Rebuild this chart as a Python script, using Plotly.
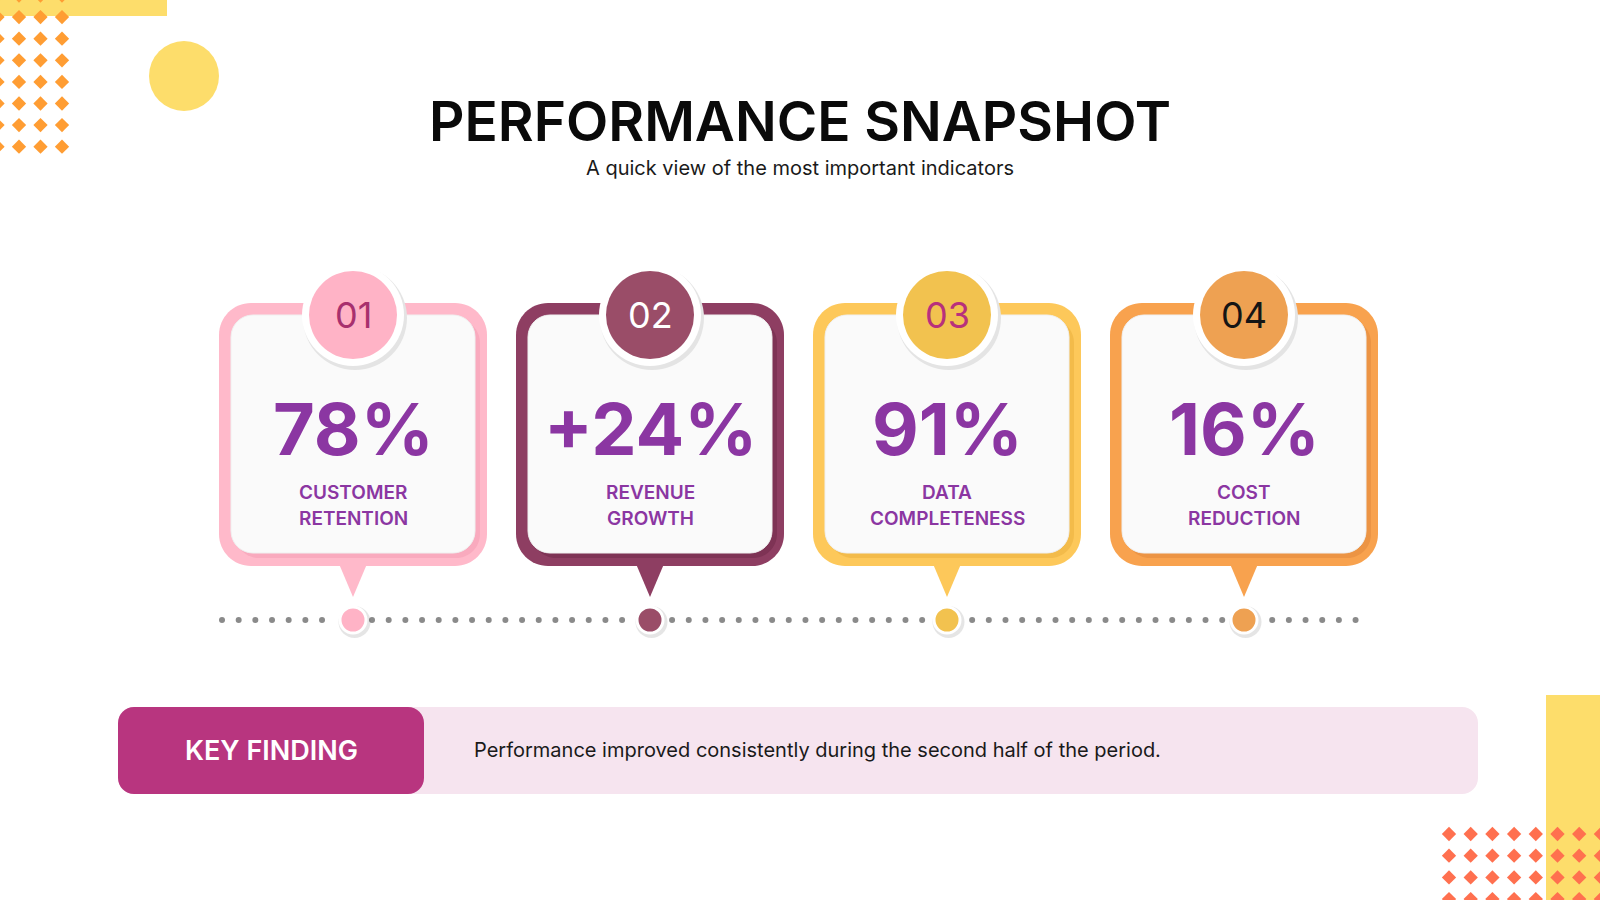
import plotly.graph_objects as go
import numpy as np

# content
badges = ["01", "02", "03", "04"]
values = ["78%", "+24%", "91%", "16%"]
label_top = ["CUSTOMER", "REVENUE", "DATA", "COST"]
label_bottom = ["RETENTION", "GROWTH", "COMPLETENESS", "REDUCTION"]
title = "PERFORMANCE SNAPSHOT"
subtitle = "A quick view of the most important indicators"
key_label = "KEY FINDING"
key_text = "Performance improved consistently during the second half of the period."

# styles
border_col = ["#FFB9CA", "#8E3E62", "#FDC85A", "#F8A24E"]
shadow_col = ["#F49BB2", "#6E2848", "#E9AE3A", "#E0863A"]
badge_col = ["#FFB3C6", "#9A4D68", "#F2C24F", "#EEA152"]
badge_txt = ["#A8306E", "#FFFFFF", "#B8307C", "#151515"]
purple = "#8B36A2"
FONT = "Inter"

W, H = 1600, 900
x0c, dx = 353, 297
centers = [x0c + i * dx for i in range(len(values))]

fig = go.Figure()
shapes = []
annos = []


def rrect(x0, y0, x1, y1, r):
    k = 0.5523 * r
    return (f"M{x0+r},{y0} L{x1-r},{y0} C{x1-r+k},{y0} {x1},{y0+r-k} {x1},{y0+r} "
            f"L{x1},{y1-r} C{x1},{y1-r+k} {x1-r+k},{y1} {x1-r},{y1} "
            f"L{x0+r},{y1} C{x0+r-k},{y1} {x0},{y1-r+k} {x0},{y1-r} "
            f"L{x0},{y0+r} C{x0},{y0+r-k} {x0+r-k},{y0} {x0+r},{y0} Z")


def path(p, fill, line=None, opacity=1):
    shapes.append(dict(type="path", path=p, xref="x", yref="y", fillcolor=fill,
                       opacity=opacity, layer="below",
                       line=dict(width=0 if line is None else 1, color=line or fill)))


def circle(cx, cy, r, fill):
    shapes.append(dict(type="circle", xref="x", yref="y", x0=cx - r, x1=cx + r,
                       y0=cy - r, y1=cy + r, fillcolor=fill, layer="below",
                       line=dict(width=0)))


def rect(x0, y0, x1, y1, fill):
    shapes.append(dict(type="rect", xref="x", yref="y", x0=x0, x1=x1, y0=y0, y1=y1,
                       fillcolor=fill, layer="below", line=dict(width=0)))


def text(x, y, s, size, color, weight=400, xanchor="center"):
    annos.append(dict(x=x, y=y, xref="x", yref="y", text=s, showarrow=False,
                      xanchor=xanchor, yanchor="middle",
                      font=dict(family=FONT, size=size, color=color, weight=weight)))


# decorations
rect(0, 0, 167, 16, "#FDDD6B")
circle(184, 76, 35, "#FDDD6B")
rect(1546, 695, 1610, 910, "#FDDD6B")

tl_x, tl_y = np.meshgrid(np.arange(-2.5, 70, 21.5), np.arange(-4.5, 160, 21.6))
fig.add_trace(go.Scatter(x=tl_x.ravel(), y=tl_y.ravel(), mode="markers",
                         marker=dict(symbol="diamond", size=11, color="#FF9D33"),
                         hoverinfo="skip"))
br_x, br_y = np.meshgrid(np.arange(1449, 1610, 21.7), np.arange(834, 910, 21.7))
fig.add_trace(go.Scatter(x=br_x.ravel(), y=br_y.ravel(), mode="markers",
                         marker=dict(symbol="diamond", size=11, color="#FF704F"),
                         hoverinfo="skip"))

# cards
for i, c in enumerate(centers):
    path(f"M{c-19},552 L{c+19},552 L{c},597 Z", border_col[i])
    path(rrect(c - 134, 303, c + 134, 566, 32), border_col[i])
    path(rrect(c - 118, 319, c + 127, 558, 24), shadow_col[i], opacity=0.5)
    path(rrect(c - 122, 315, c + 122, 553, 22), "#FAFAFA", line="#F0F0F0")
    circle(c + 2, 318, 52, "#E4E4E4")
    circle(c, 315, 51, "#FFFFFF")
    circle(c, 315, 44, badge_col[i])
    text(c, 315, badges[i], 36, badge_txt[i], 400)
    text(c, 428, values[i], 72, purple, 700)
    text(c, 492, label_top[i], 19, purple, 600)
    text(c, 518, label_bottom[i], 19, purple, 600)

# timeline
dots = np.arange(222, 1356, 16.67)
dots = [d for d in dots if min(abs(d - c) for c in centers) > 17]
fig.add_trace(go.Scatter(x=dots, y=[620] * len(dots), mode="markers",
                         marker=dict(size=6, color="#8A8A8A"), hoverinfo="skip"))
fig.add_trace(go.Scatter(x=[c + 1.5 for c in centers], y=[622] * 4, mode="markers",
                         marker=dict(size=32, color="rgba(0,0,0,0.10)"), hoverinfo="skip"))
fig.add_trace(go.Scatter(x=centers, y=[620] * 4, mode="markers",
                         marker=dict(size=26, color=badge_col,
                                     line=dict(width=3, color="#FFFFFF")),
                         hoverinfo="skip"))

# key finding
path(rrect(118, 707, 1478, 794, 16), "#F6E4EF")
path(rrect(118, 707, 424, 794, 16), "#B8357F")
text(271, 750, key_label, 27, "#FFFFFF", 600)
text(472, 750, key_text, 20, "#1A1A1A", 400, xanchor="left")

# titles
text(800, 121, title, 55, "#0A0A0A", 600)
text(800, 168, subtitle, 20, "#1A1A1A", 400)

fig.update_layout(
    width=W, height=H, margin=dict(l=0, r=0, t=0, b=0),
    paper_bgcolor="#FFFFFF", plot_bgcolor="#FFFFFF", showlegend=False,
    shapes=shapes, annotations=annos,
    xaxis=dict(range=[0, W], visible=False, fixedrange=True),
    yaxis=dict(range=[H, 0], visible=False, fixedrange=True),
)
fig.write_html("out.html", config={"displayModeBar": False},
               post_script="document.body.style.margin='0';"
                           "document.body.style.overflow='hidden';")
